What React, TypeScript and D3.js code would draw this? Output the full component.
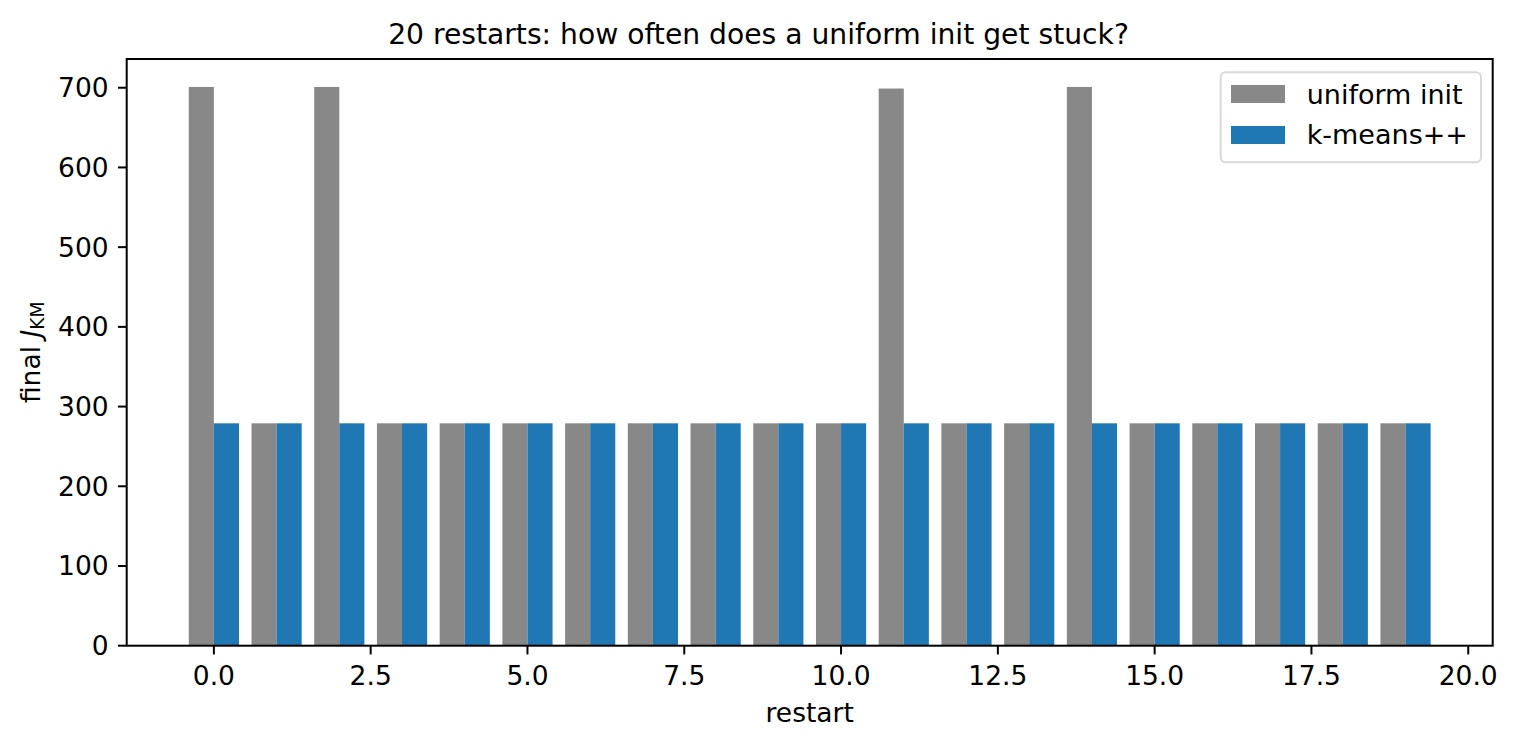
import React from "react";
import * as d3 from "d3";

const restarts = d3.range(20);
const uniformInit = [701, 279, 701, 279, 279, 279, 279, 279, 279, 279, 279, 699, 279, 279, 701, 279, 279, 279, 279, 279];
const kmeansPP = [279, 279, 279, 279, 279, 279, 279, 279, 279, 279, 279, 279, 279, 279, 279, 279, 279, 279, 279, 279];
const xTicks = [0, 2.5, 5, 7.5, 10, 12.5, 15, 17.5, 20];
const yTicks = [0, 100, 200, 300, 400, 500, 600, 700];
const seriesNames = ["uniform init", "k-means++"];
const colors = ["#888888", "#1f77b4"];

const W = 1517, H = 748;
const L = 126.7, R = 1492.7, T = 59, B = 645.7;
const FONT = "DejaVu Sans";
const FS = 26.5;

export default function App() {
  const barW = 0.4;
  const allVals = [...uniformInit, ...kmeansPP];
  const xmin = -barW, xmax = restarts.length - 1 + barW;
  const mx = (xmax - xmin) * 0.05;
  const x = d3.scaleLinear().domain([xmin - mx, xmax + mx]).range([L, R]);
  const ymax = (d3.max(allVals) as number) * 1.05;
  const y = d3.scaleLinear().domain([0, ymax]).range([B, T]);
  const series = [uniformInit, kmeansPP];
  const offsets = [-barW / 2, barW / 2];
  const fmtX = d3.format(".1f");

  return (
    <svg width={W} height={H} style={{ position: "absolute", left: 0, top: 0, display: "block", background: "#fff" }} fontFamily={FONT}>
      <rect x={0} y={0} width={W} height={H} fill="#fff" />
      {series.map((vals, s) =>
        vals.map((v, i) => {
          const cx = restarts[i] + offsets[s];
          const x0 = x(cx - barW / 2), x1 = x(cx + barW / 2);
          return <rect key={`${s}-${i}`} x={x0} y={y(v)} width={x1 - x0} height={y(0) - y(v)} fill={colors[s]} />;
        })
      )}
      {/* spines */}
      <rect x={L} y={T} width={R - L} height={B - T} fill="none" stroke="#000" strokeWidth={2} />
      {/* x ticks */}
      {xTicks.map((t) => (
        <g key={`xt${t}`}>
          <line x1={x(t)} x2={x(t)} y1={B} y2={B + 8.75} stroke="#000" strokeWidth={2} />
          <text x={x(t)} y={685} fontSize={FS} textAnchor="middle" fill="#000">{fmtX(t)}</text>
        </g>
      ))}
      {/* y ticks */}
      {yTicks.map((t) => (
        <g key={`yt${t}`}>
          <line x1={L - 8.75} x2={L} y1={y(t)} y2={y(t)} stroke="#000" strokeWidth={2} />
          <text x={L - 18} y={y(t) + 9.5} fontSize={FS} textAnchor="end" fill="#000">{t}</text>
        </g>
      ))}
      {/* title */}
      <text x={W / 2} y={44} fontSize={28.2} textAnchor="middle" fill="#000">
        20 restarts: how often does a uniform init get stuck?
      </text>
      {/* x label */}
      <text x={(L + R) / 2} y={722} fontSize={FS} textAnchor="middle" fill="#000">restart</text>
      {/* y label */}
      <text transform={`translate(40, ${(T + B) / 2}) rotate(-90)`} fontSize={FS} textAnchor="middle" fill="#000">
        final <tspan fontStyle="italic">J</tspan>
        <tspan fontSize={FS * 0.7} dy={4}>KM</tspan>
      </text>
      {/* legend */}
      <rect x={1220.7} y={72.3} width={260.3} height={90} rx={5} ry={5} fill="#fff" fillOpacity={0.8} stroke="#d9d9d9" strokeWidth={2} />
      {seriesNames.map((name, i) => (
        <g key={name}>
          <rect x={1231} y={85 + i * 41} width={54} height={18} fill={colors[i]} />
          <text x={1306.7} y={103.5 + i * 40.5} fontSize={27} fill="#000">{name}</text>
        </g>
      ))}
    </svg>
  );
}
